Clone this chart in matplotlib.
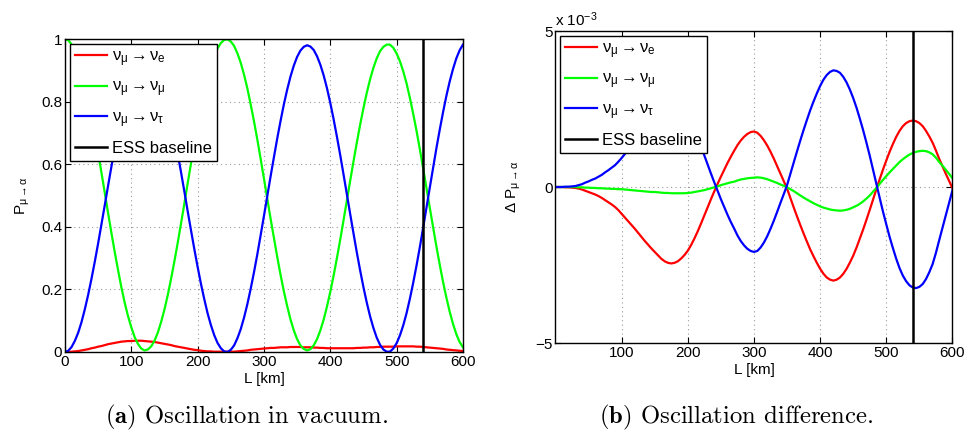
import matplotlib
matplotlib.use("Agg")
import matplotlib.pyplot as plt

plt.rcParams['font.family'] = ['Liberation Sans', 'DejaVu Sans']
plt.rcParams['mathtext.fontset'] = 'custom'
plt.rcParams['mathtext.rm'] = 'Liberation Sans'
plt.rcParams['mathtext.it'] = 'Liberation Sans'
plt.rcParams['mathtext.bf'] = 'Liberation Sans:bold'

# baseline grid (km), sampled every 5 km
L_km = list(range(0, 605, 5))
ess_km = 540

# (a) oscillation probabilities in vacuum
p_mu_e = [0.000, 0.000, 0.001, 0.002, 0.003, 0.005, 0.007, 0.009, 0.012, 0.014,
          0.017, 0.019, 0.022, 0.025, 0.027, 0.029, 0.031, 0.033, 0.034, 0.035,
          0.035, 0.036, 0.036, 0.036, 0.035, 0.034, 0.033, 0.032, 0.030, 0.028,
          0.026, 0.024, 0.022, 0.019, 0.017, 0.015, 0.013, 0.011, 0.009, 0.007,
          0.006, 0.004, 0.003, 0.002, 0.002, 0.001, 0.001, 0.001, 0.001, 0.001,
          0.001, 0.001, 0.002, 0.003, 0.004, 0.005, 0.007, 0.008, 0.009, 0.010,
          0.011, 0.012, 0.013, 0.013, 0.014, 0.015, 0.015, 0.015, 0.016, 0.016,
          0.016, 0.016, 0.015, 0.015, 0.015, 0.014, 0.014, 0.013, 0.013, 0.012,
          0.012, 0.012, 0.012, 0.012, 0.012, 0.012, 0.012, 0.012, 0.013, 0.013,
          0.014, 0.014, 0.015, 0.015, 0.016, 0.016, 0.017, 0.017, 0.017, 0.017,
          0.018, 0.018, 0.018, 0.018, 0.018, 0.018, 0.017, 0.017, 0.016, 0.015,
          0.014, 0.013, 0.012, 0.011, 0.010, 0.008, 0.007, 0.006, 0.005, 0.004,
          0.003]
p_mu_mu = [1.000, 0.996, 0.983, 0.962, 0.935, 0.899, 0.856, 0.808, 0.754, 0.697,
           0.636, 0.573, 0.509, 0.444, 0.381, 0.320, 0.262, 0.207, 0.158, 0.115,
           0.079, 0.048, 0.026, 0.011, 0.005, 0.008, 0.018, 0.036, 0.062, 0.096,
           0.136, 0.182, 0.234, 0.290, 0.349, 0.411, 0.474, 0.539, 0.602, 0.664,
           0.722, 0.778, 0.828, 0.874, 0.912, 0.945, 0.970, 0.987, 0.997, 0.999,
           0.992, 0.978, 0.954, 0.924, 0.886, 0.842, 0.791, 0.737, 0.679, 0.617,
           0.554, 0.490, 0.426, 0.365, 0.304, 0.247, 0.194, 0.147, 0.104, 0.069,
           0.041, 0.021, 0.010, 0.005, 0.009, 0.021, 0.041, 0.069, 0.103, 0.145,
           0.192, 0.244, 0.300, 0.359, 0.421, 0.484, 0.547, 0.609, 0.669, 0.726,
           0.779, 0.828, 0.871, 0.908, 0.938, 0.961, 0.975, 0.982, 0.982, 0.972,
           0.954, 0.929, 0.897, 0.858, 0.812, 0.761, 0.707, 0.648, 0.587, 0.524,
           0.461, 0.399, 0.337, 0.279, 0.224, 0.174, 0.129, 0.090, 0.057, 0.032,
           0.015]
p_mu_tau = [0.000, 0.004, 0.016, 0.036, 0.062, 0.096, 0.137, 0.183, 0.234, 0.289,
            0.347, 0.408, 0.469, 0.531, 0.592, 0.651, 0.707, 0.760, 0.808, 0.850,
            0.886, 0.916, 0.938, 0.953, 0.960, 0.958, 0.949, 0.932, 0.908, 0.876,
            0.838, 0.794, 0.744, 0.691, 0.634, 0.574, 0.513, 0.450, 0.389, 0.329,
            0.272, 0.218, 0.169, 0.124, 0.086, 0.054, 0.029, 0.012, 0.002, 0.000,
            0.007, 0.021, 0.044, 0.073, 0.110, 0.153, 0.202, 0.255, 0.312, 0.373,
            0.435, 0.498, 0.561, 0.622, 0.682, 0.738, 0.791, 0.838, 0.880, 0.915,
            0.943, 0.963, 0.975, 0.980, 0.976, 0.965, 0.945, 0.918, 0.884, 0.843,
            0.796, 0.744, 0.688, 0.629, 0.567, 0.504, 0.441, 0.379, 0.318, 0.261,
            0.207, 0.158, 0.114, 0.077, 0.046, 0.023, 0.008, 0.001, 0.001, 0.011,
            0.028, 0.053, 0.085, 0.124, 0.170, 0.221, 0.276, 0.335, 0.397, 0.461,
            0.525, 0.588, 0.651, 0.710, 0.766, 0.818, 0.864, 0.904, 0.938, 0.964,
            0.982]

# (b) oscillation difference, in units of 1e-3
dp_mu_e = [0.00, 0.00, 0.00, -0.01, -0.01, -0.02, -0.03, -0.05, -0.08, -0.12,
           -0.16, -0.20, -0.24, -0.29, -0.35, -0.42, -0.49, -0.56, -0.64, -0.74,
           -0.86, -0.98, -1.10, -1.22, -1.34, -1.47, -1.60, -1.73, -1.85, -1.97,
           -2.08, -2.19, -2.30, -2.38, -2.43, -2.45, -2.43, -2.38, -2.29, -2.18,
           -2.04, -1.86, -1.65, -1.42, -1.17, -0.91, -0.65, -0.39, -0.14, 0.10,
           0.33, 0.55, 0.77, 0.97, 1.16, 1.34, 1.49, 1.61, 1.70, 1.76,
           1.78, 1.74, 1.64, 1.50, 1.33, 1.13, 0.91, 0.67, 0.43, 0.19,
           -0.05, -0.35, -0.65, -0.94, -1.22, -1.49, -1.75, -2.00, -2.22, -2.43,
           -2.62, -2.78, -2.90, -2.97, -3.00, -2.97, -2.90, -2.78, -2.62, -2.42,
           -2.20, -1.94, -1.65, -1.36, -1.05, -0.73, -0.40, -0.07, 0.25, 0.56,
           0.85, 1.13, 1.38, 1.61, 1.80, 1.95, 2.05, 2.11, 2.13, 2.11,
           2.05, 1.95, 1.80, 1.62, 1.42, 1.17, 0.90, 0.66, 0.42, 0.19,
           -0.04]
dp_mu_mu = [0.00, 0.00, 0.00, 0.00, 0.00, 0.00, 0.00, -0.01, -0.01, -0.02,
            -0.02, -0.03, -0.03, -0.04, -0.04, -0.05, -0.05, -0.06, -0.06, -0.07,
            -0.07, -0.08, -0.09, -0.10, -0.11, -0.12, -0.13, -0.14, -0.15, -0.16,
            -0.16, -0.17, -0.18, -0.19, -0.19, -0.20, -0.20, -0.20, -0.20, -0.20,
            -0.19, -0.18, -0.16, -0.14, -0.12, -0.10, -0.07, -0.04, -0.01, 0.02,
            0.06, 0.09, 0.12, 0.15, 0.17, 0.21, 0.24, 0.26, 0.28, 0.29,
            0.30, 0.31, 0.30, 0.28, 0.25, 0.21, 0.17, 0.13, 0.08, 0.04,
            -0.01, -0.07, -0.13, -0.20, -0.27, -0.34, -0.40, -0.46, -0.52, -0.57,
            -0.62, -0.66, -0.69, -0.72, -0.74, -0.75, -0.76, -0.75, -0.73, -0.70,
            -0.65, -0.60, -0.54, -0.46, -0.37, -0.27, -0.15, -0.03, 0.10, 0.23,
            0.35, 0.47, 0.58, 0.69, 0.80, 0.89, 0.97, 1.04, 1.09, 1.13,
            1.15, 1.16, 1.15, 1.11, 1.05, 0.94, 0.80, 0.68, 0.55, 0.42,
            0.28]
dp_mu_tau = [0.00, 0.00, 0.00, 0.01, 0.01, 0.02, 0.03, 0.06, 0.09, 0.14,
             0.18, 0.23, 0.27, 0.33, 0.39, 0.47, 0.54, 0.62, 0.70, 0.81,
             0.93, 1.06, 1.19, 1.32, 1.45, 1.59, 1.73, 1.87, 2.00, 2.13,
             2.24, 2.36, 2.48, 2.57, 2.62, 2.65, 2.63, 2.58, 2.49, 2.38,
             2.23, 2.04, 1.81, 1.56, 1.29, 1.01, 0.72, 0.43, 0.15, -0.12,
             -0.39, -0.64, -0.89, -1.12, -1.33, -1.55, -1.73, -1.87, -1.98, -2.05,
             -2.08, -2.05, -1.94, -1.78, -1.58, -1.34, -1.08, -0.80, -0.51, -0.23,
             0.06, 0.42, 0.78, 1.14, 1.49, 1.83, 2.15, 2.46, 2.74, 3.00,
             3.24, 3.44, 3.59, 3.69, 3.74, 3.72, 3.66, 3.53, 3.35, 3.12,
             2.85, 2.54, 2.19, 1.82, 1.42, 1.00, 0.55, 0.10, -0.35, -0.79,
             -1.20, -1.60, -1.96, -2.30, -2.60, -2.84, -3.02, -3.15, -3.22, -3.24,
             -3.20, -3.11, -2.95, -2.73, -2.47, -2.11, -1.70, -1.30, -0.90, -0.50,
             -0.10]

labels = [r'$\nu_\mu \rightarrow \nu_e$', r'$\nu_\mu \rightarrow \nu_\mu$',
          r'$\nu_\mu \rightarrow \nu_\tau$', 'ESS baseline']
colors = ['#ff0000', '#00ff00', '#0000ff']

fig = plt.figure(figsize=(9.74, 4.32), dpi=100)
ax1 = fig.add_axes([0.0667, 0.1852, 0.4086, 0.7245])
ax2 = fig.add_axes([0.5703, 0.2060, 0.4076, 0.7222])

for ax, series in [(ax1, [p_mu_e, p_mu_mu, p_mu_tau]),
                   (ax2, [dp_mu_e, dp_mu_mu, dp_mu_tau])]:
    for y, c, lab in zip(series, colors, labels):
        ax.plot(L_km, y, color=c, lw=1.6, label=lab)
    ax.axvline(ess_km, color='k', lw=1.8, label=labels[3])
    ax.set_xlim(0, 600)
    ax.grid(True, ls=(0, (1, 3)), color='#999999', lw=0.8)
    ax.tick_params(direction='in', top=True, right=True, labelsize=11, length=4, pad=2)
    for s in ax.spines.values():
        s.set_linewidth(1.0)
    ax.set_xlabel('L [km]', fontsize=11, labelpad=2)
    ax.legend(loc='upper left', fontsize=12, frameon=True, fancybox=False,
              edgecolor='k', framealpha=1, borderpad=0.3, labelspacing=0.65,
              handlelength=1.9, handletextpad=0.3, borderaxespad=0.3)
    ax.get_legend().get_frame().set_linewidth(1.0)

ax1.set_ylim(0, 1)
ax1.set_xticks([0, 100, 200, 300, 400, 500, 600])
ax1.set_yticks([0, 0.2, 0.4, 0.6, 0.8, 1])
ax1.set_yticklabels(['0', '0.2', '0.4', '0.6', '0.8', '1'])
ax1.set_ylabel(r'$P_{\mu \rightarrow \alpha}$', fontsize=11)
ax1.yaxis.set_label_coords(-0.082, 0.5)

ax2.set_ylim(-5, 5)
ax2.set_xticks([100, 200, 300, 400, 500, 600])
ax2.set_yticks([-5, 0, 5])
ax2.set_yticklabels(['\u22125', '0', '5'])
ax2.set_ylabel(r'$\Delta\ P_{\mu \rightarrow \alpha}$', fontsize=11)
ax2.yaxis.set_label_coords(-0.082, 0.5)
ax2.text(0.0, 1.008, r'x 10$^{-3}$', transform=ax2.transAxes, fontsize=11,
         ha='left', va='bottom')

fig.text(0.2536, 0.033, r'$\mathbf{(a)}$ Oscillation in vacuum.', family='cmr10',
         math_fontfamily='cm', fontsize=17.8, ha='center', va='center')
fig.text(0.7562, 0.033, r'$\mathbf{(b)}$ Oscillation difference.', family='cmr10',
         math_fontfamily='cm', fontsize=17.8, ha='center', va='center')

fig.savefig('out.png', dpi=100)
